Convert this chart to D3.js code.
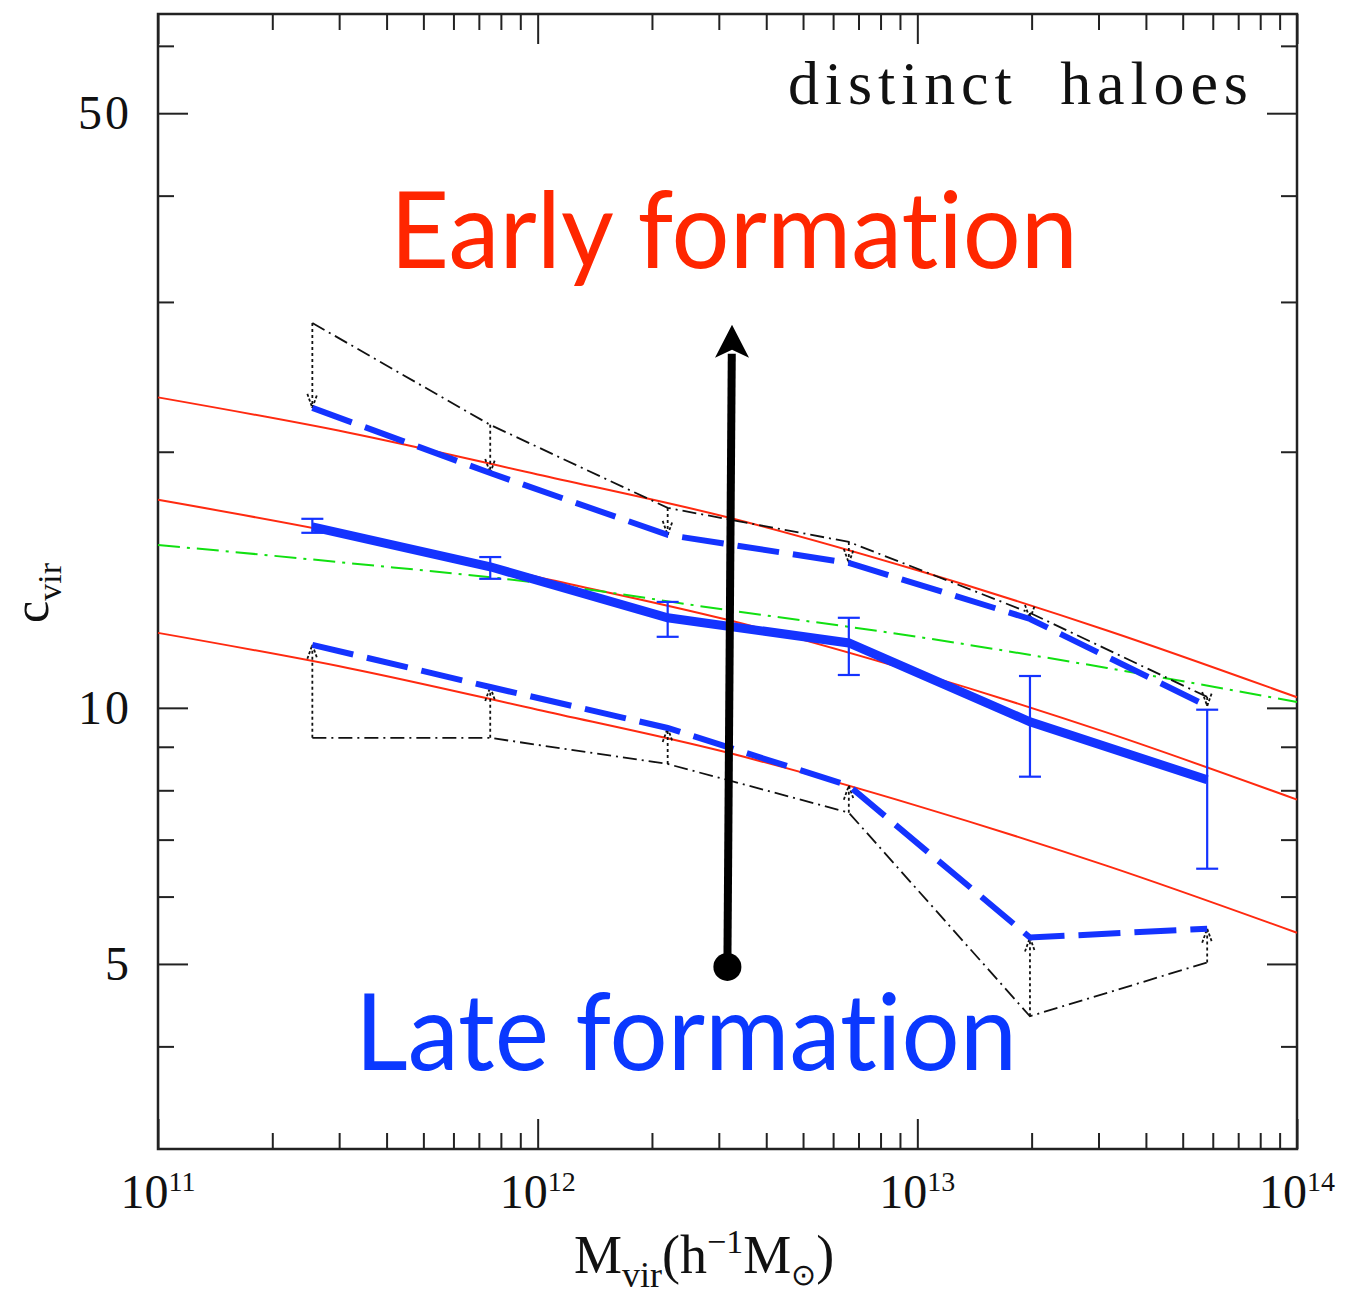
<!DOCTYPE html>
<html>
<head>
<meta charset="utf-8">
<script src="https://cdn.jsdelivr.net/npm/d3@7"></script>
<style>
body { margin: 0; background: #fff; }
text { font-variant-ligatures: none; }
</style>
</head>
<body>
<svg id="chart"></svg>
<script>
var w = 1345;
var h = 1294;
var plotLeft = 158, plotRight = 1297, plotTop = 14, plotBottom = 1149;

// mass bins (h^-1 Msun) and concentrations
var massBins = [2.55e11, 7.5e11, 2.2e12, 6.6e12, 1.98e13, 5.8e13];
var cMedian = [16.32, 14.65, 12.76, 11.92, 9.63, 8.23];
var cErrLo = [16.06, 14.18, 12.12, 10.93, 8.30, 6.47];
var cErrHi = [16.68, 15.04, 13.32, 12.76, 10.90, 9.95];
var cEarly = [22.52, 18.88, 15.97, 14.80, 12.72, 10.05];
var cEarlyRaw = [28.34, 21.51, 17.18, 15.67, 12.93, 10.30];
var cLate = [11.86, 10.58, 9.47, 8.10, 5.37, 5.50];
var cLateRaw = [9.22, 9.22, 8.59, 7.53, 4.34, 5.02];

// model curves
var modelMass = [1e11, 3.16e11, 1e12, 3.16e12, 1e13, 3.16e13, 1e14];
var redHigh = [23.17, 21.07, 18.81, 16.75, 14.51, 12.33, 10.29];
var redMid = [17.56, 15.97, 14.25, 12.69, 11.00, 9.35, 7.80];
var redLow = [12.25, 11.14, 9.95, 8.86, 7.67, 6.52, 5.44];
var greenFit = [15.54, 14.80, 14.03, 13.03, 12.12, 11.14, 10.16];

// ticks
var xMajor = [1e11, 1e12, 1e13, 1e14];
var xMinor = [];
[1e11, 1e12, 1e13].forEach(function (d) {
  for (var k = 2; k <= 9; k++) xMinor.push(k * d);
});
var yMajor = [5, 10, 50];
var yMinor = [4, 6, 7, 8, 9, 20, 30, 40, 60];

// big annotation arrow (mass, c)
var arrowStart = [3.16e12, 4.96];
var arrowTip = [3.25e12, 28.2];

var svg = d3.select("#chart")
  .attr("width", w)
  .attr("height", h);

var x = d3.scaleLog().domain([1e11, 1e14]).range([plotLeft, plotRight]);
var y = d3.scaleLog().domain([3.03, 65.4]).range([plotBottom, plotTop]);

var axisColor = "#222";

function drawAxis(axis, tx, ty) {
  var g = svg.append("g")
    .attr("transform", "translate(" + tx + "," + ty + ")")
    .call(axis);
  g.select(".domain").remove();
  g.selectAll("line").attr("stroke", axisColor).attr("stroke-width", 2);
  g.selectAll("text").remove();
}

var bigTick = 30, smallTick = 16;
drawAxis(d3.axisBottom(x).tickValues(xMajor).tickSize(-bigTick).tickFormat(""), 0, plotBottom);
drawAxis(d3.axisBottom(x).tickValues(xMinor).tickSize(-smallTick).tickFormat(""), 0, plotBottom);
drawAxis(d3.axisTop(x).tickValues(xMajor).tickSize(-bigTick).tickFormat(""), 0, plotTop);
drawAxis(d3.axisTop(x).tickValues(xMinor).tickSize(-smallTick).tickFormat(""), 0, plotTop);
drawAxis(d3.axisLeft(y).tickValues(yMajor).tickSize(-bigTick).tickFormat(""), plotLeft, 0);
drawAxis(d3.axisLeft(y).tickValues(yMinor).tickSize(-smallTick).tickFormat(""), plotLeft, 0);
drawAxis(d3.axisRight(y).tickValues(yMajor).tickSize(-bigTick).tickFormat(""), plotRight, 0);
drawAxis(d3.axisRight(y).tickValues(yMinor).tickSize(-smallTick).tickFormat(""), plotRight, 0);

svg.append("rect")
  .attr("x", plotLeft)
  .attr("y", plotTop)
  .attr("width", plotRight - plotLeft)
  .attr("height", plotBottom - plotTop)
  .attr("fill", "none")
  .attr("stroke", axisColor)
  .attr("stroke-width", 2.5);

// tick labels
var serif = "'Liberation Serif', 'Times New Roman', serif";
xMajor.forEach(function (d) {
  var t = svg.append("text")
    .attr("x", x(d))
    .attr("y", 1208)
    .attr("text-anchor", "middle")
    .attr("font-family", serif)
    .attr("font-size", 48)
    .attr("fill", "#111");
  t.append("tspan").text("10");
  t.append("tspan")
    .attr("font-size", 28)
    .attr("dy", -17)
    .text(Math.round(Math.log10(d)));
});

yMajor.forEach(function (d) {
  svg.append("text")
    .attr("x", 132)
    .attr("y", y(d) + 16)
    .attr("text-anchor", "end")
    .attr("font-family", serif)
    .attr("font-size", 48)
    .attr("letter-spacing", 3)
    .attr("fill", "#111")
    .text(d);
});

// axis titles
var xt = svg.append("text")
  .attr("x", 574)
  .attr("y", 1273)
  .attr("font-family", serif)
  .attr("font-size", 54)
  .attr("fill", "#111");
xt.append("tspan").text("M");
xt.append("tspan").attr("font-size", 36).attr("dy", 14).text("vir");
xt.append("tspan").attr("dy", -14).text("(h");
xt.append("tspan").attr("font-size", 34).attr("dy", -20).text("\u22121");
xt.append("tspan").attr("dy", 20).text("M");
xt.append("tspan").attr("font-size", 30).attr("dy", 12).text("\u2299");
xt.append("tspan").attr("dy", -12).text(")");

var yt = svg.append("text")
  .attr("transform", "translate(48,623) rotate(-90)")
  .attr("font-family", serif)
  .attr("font-size", 50)
  .attr("fill", "#111");
yt.append("tspan").text("c");
yt.append("tspan").attr("font-size", 34).attr("dy", 13).text("vir");

svg.append("text")
  .attr("x", 788)
  .attr("y", 104)
  .attr("font-family", serif)
  .attr("font-size", 62)
  .attr("textLength", 460)
  .attr("lengthAdjust", "spacing")
  .attr("fill", "#111")
  .style("white-space", "pre")
  .text("distinct  haloes");

// lines
var red = "#ff2a10", blue = "#1433ff", green = "#11e011";

var modelLine = d3.line()
  .x(function (d, i) { return x(modelMass[i]); })
  .y(function (d) { return y(d); })
  .curve(d3.curveMonotoneX);

var binLine = d3.line()
  .x(function (d, i) { return x(massBins[i]); })
  .y(function (d) { return y(d); });

[redHigh, redMid, redLow].forEach(function (s) {
  svg.append("path")
    .attr("d", modelLine(s))
    .attr("fill", "none")
    .attr("stroke", red)
    .attr("stroke-width", 2);
});

svg.append("path")
  .attr("d", modelLine(greenFit))
  .attr("fill", "none")
  .attr("stroke", green)
  .attr("stroke-width", 2)
  .attr("stroke-dasharray", "22,7,3,7");

// black dash-dot (before shift)
[cEarlyRaw, cLateRaw].forEach(function (s) {
  svg.append("path")
    .attr("d", binLine(s))
    .attr("fill", "none")
    .attr("stroke", "#111")
    .attr("stroke-width", 1.8)
    .attr("stroke-dasharray", "14,5,2,5");
});

// dotted shift arrows
function shiftArrow(m, c0, c1) {
  var px = x(m), y0 = y(c0), y1 = y(c1);
  var dir = y1 > y0 ? 1 : -1;
  svg.append("line")
    .attr("x1", px).attr("x2", px)
    .attr("y1", y0).attr("y2", y1)
    .attr("stroke", "#111")
    .attr("stroke-width", 1.8)
    .attr("stroke-dasharray", "3,3");
  svg.append("path")
    .attr("d", "M" + (px - 5) + "," + (y1 - dir * 14) + "L" + px + "," + y1 + "L" + (px + 5) + "," + (y1 - dir * 14))
    .attr("fill", "none")
    .attr("stroke", "#111")
    .attr("stroke-width", 1.8)
    .attr("stroke-dasharray", "3,2");
}
massBins.forEach(function (m, i) {
  shiftArrow(m, cEarlyRaw[i], cEarly[i]);
  shiftArrow(m, cLateRaw[i], cLate[i]);
});

// blue dashed (early / late)
[cEarly, cLate].forEach(function (s) {
  svg.append("path")
    .attr("d", binLine(s))
    .attr("fill", "none")
    .attr("stroke", blue)
    .attr("stroke-width", 6)
    .attr("stroke-dasharray", "42,14");
});

// median with error bars
svg.append("path")
  .attr("d", binLine(cMedian))
  .attr("fill", "none")
  .attr("stroke", blue)
  .attr("stroke-width", 9);

var eb = svg.append("g")
  .attr("stroke", blue)
  .attr("stroke-width", 2.2);
massBins.forEach(function (m, i) {
  var px = x(m);
  eb.append("line").attr("x1", px).attr("x2", px).attr("y1", y(cErrLo[i])).attr("y2", y(cErrHi[i]));
  eb.append("line").attr("x1", px - 11).attr("x2", px + 11).attr("y1", y(cErrLo[i])).attr("y2", y(cErrLo[i]));
  eb.append("line").attr("x1", px - 11).attr("x2", px + 11).attr("y1", y(cErrHi[i])).attr("y2", y(cErrHi[i]));
});

// annotation arrow
var ax0 = x(arrowStart[0]), ay0 = y(arrowStart[1]);
var ax1 = x(arrowTip[0]), ay1 = y(arrowTip[1]);
var headLen = 33;
svg.append("line")
  .attr("x1", ax0).attr("y1", ay0)
  .attr("x2", ax1 - (ax1 - ax0) * headLen / (ay0 - ay1)).attr("y2", ay1 + headLen - 4)
  .attr("stroke", "#000")
  .attr("stroke-width", 8);
svg.append("path")
  .attr("d", "M" + ax1 + "," + ay1 + "L" + (ax1 - 17) + "," + (ay1 + headLen) +
    "L" + ax1 + "," + (ay1 + headLen - 8) + "L" + (ax1 + 17) + "," + (ay1 + headLen) + "Z")
  .attr("fill", "#000");
svg.append("circle")
  .attr("cx", ax0).attr("cy", ay0)
  .attr("r", 14)
  .attr("fill", "#000");

// labels
var sans = "Lato, 'Open Sans', sans-serif";
svg.append("text")
  .attr("x", 390)
  .attr("y", 268)
  .attr("font-family", sans)
  .attr("font-size", 106)
  .attr("textLength", 688)
  .attr("lengthAdjust", "spacingAndGlyphs")
  .attr("fill", "#ff2600")
  .text("Early formation");

svg.append("text")
  .attr("x", 355)
  .attr("y", 1070)
  .attr("font-family", sans)
  .attr("font-size", 106)
  .attr("textLength", 662)
  .attr("lengthAdjust", "spacingAndGlyphs")
  .attr("fill", "#0a38ff")
  .text("Late formation");
</script>
</body>
</html>
